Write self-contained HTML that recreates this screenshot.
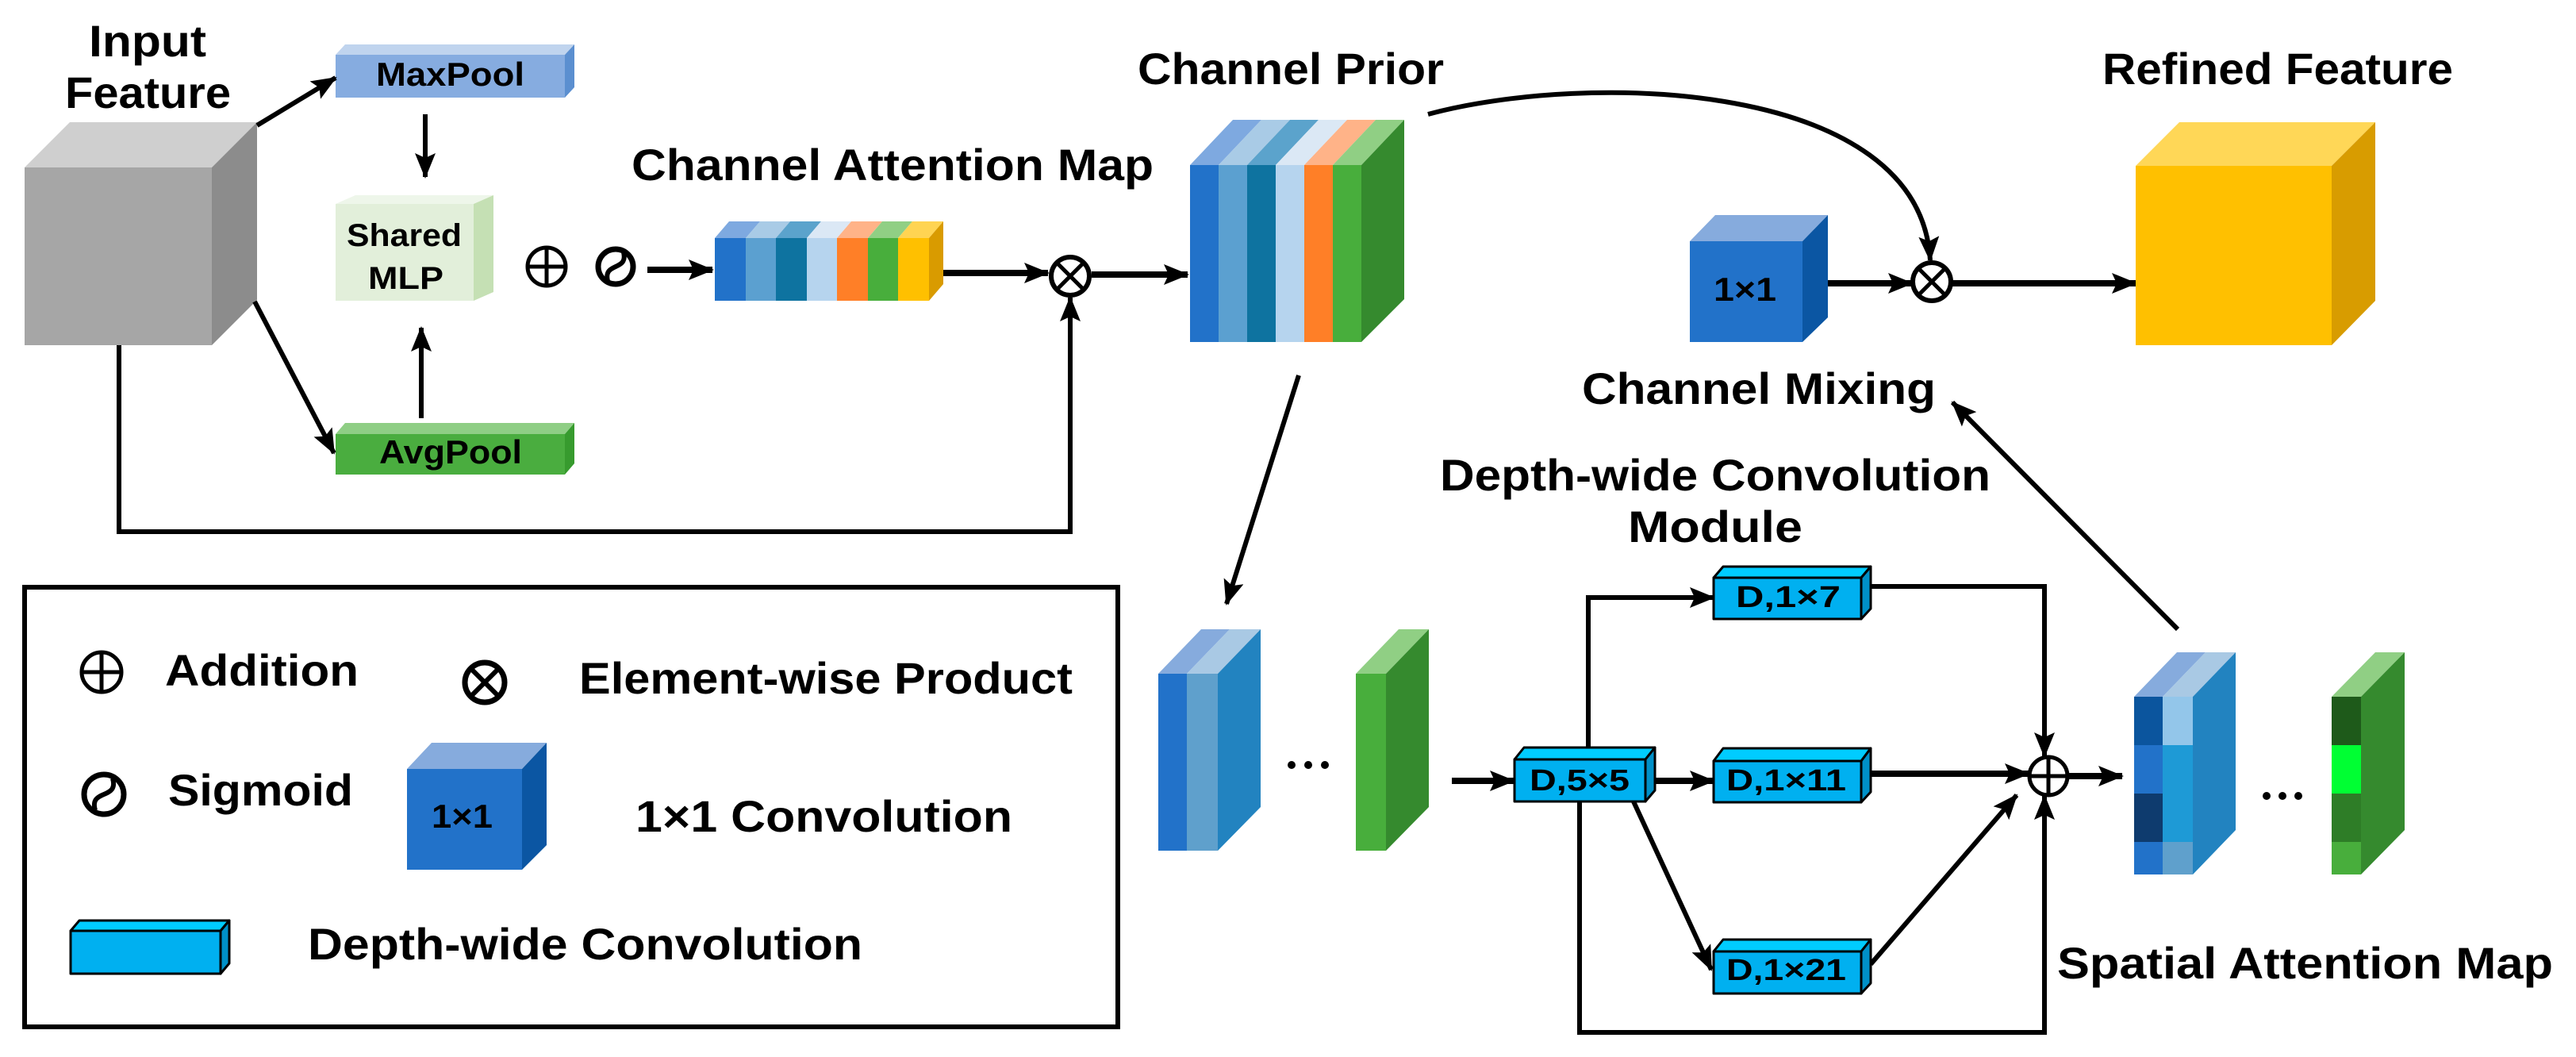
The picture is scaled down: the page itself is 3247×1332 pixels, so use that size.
<!DOCTYPE html>
<html><head><meta charset="utf-8"><style>
html,body{margin:0;padding:0;background:#fff}
svg{display:block}
text{font-family:"Liberation Sans",sans-serif;font-weight:bold;fill:#000}
</style></head><body>
<svg width="3247" height="1332" viewBox="0 0 3247 1332" xmlns="http://www.w3.org/2000/svg">
<defs>
<marker id="a" markerUnits="userSpaceOnUse" markerWidth="32" markerHeight="26" refX="30" refY="13" orient="auto">
<path d="M0,0 L32,13 L0,26 L6,13 Z" fill="#000"/></marker>
</defs>
<rect width="3247" height="1332" fill="#fff"/>

<!-- Input feature cube -->
<polygon points="31,211 88,154 324,154 267,211" fill="#cfcfcf"/>
<polygon points="267,211 324,154 324,378 267,435" fill="#8c8c8c"/>
<rect x="31" y="211" width="236" height="224" fill="#a6a6a6"/>
<text x="112" y="71" font-size="56" textLength="148" lengthAdjust="spacingAndGlyphs">Input</text>
<text x="82" y="136" font-size="56" textLength="209" lengthAdjust="spacingAndGlyphs">Feature</text>

<!-- MaxPool -->
<polygon points="423,69 435,56 724,56 712,69" fill="#c0d4ee"/>
<polygon points="712,69 724,56 724,110 712,123" fill="#5b8fd0"/>
<rect x="423" y="69" width="289" height="54" fill="#86ace0"/>
<text x="474" y="108" font-size="42" textLength="187" lengthAdjust="spacingAndGlyphs">MaxPool</text>

<!-- Shared MLP -->
<polygon points="423,257 448,246 622,246 597,257" fill="#eef6ea"/>
<polygon points="597,257 622,246 622,368 597,379" fill="#c5e0b4"/>
<rect x="423" y="257" width="174" height="122" fill="#e2efda"/>
<text x="437" y="310" font-size="40" textLength="145" lengthAdjust="spacingAndGlyphs">Shared</text>
<text x="464" y="364" font-size="40" textLength="95" lengthAdjust="spacingAndGlyphs">MLP</text>

<!-- AvgPool -->
<polygon points="423,547 435,533 724,533 712,547" fill="#8fce85"/>
<polygon points="712,547 724,533 724,584 712,598" fill="#379b2e"/>
<rect x="423" y="547" width="289" height="51" fill="#4aad3f"/>
<text x="478" y="584" font-size="42" textLength="180" lengthAdjust="spacingAndGlyphs">AvgPool</text>

<g stroke="#000" stroke-width="6" fill="none">
<line x1="324" y1="158" x2="423" y2="98" marker-end="url(#a)"/>
<line x1="321" y1="380" x2="421" y2="571" marker-end="url(#a)"/>
<line x1="536" y1="144" x2="536" y2="223" marker-end="url(#a)"/>
<line x1="531" y1="527" x2="531" y2="413" marker-end="url(#a)"/>
<line x1="816" y1="340" x2="898" y2="340" marker-end="url(#a)" stroke-width="8"/>
<line x1="1189" y1="344" x2="1321" y2="344" marker-end="url(#a)" stroke-width="8"/>
<line x1="1376" y1="346" x2="1497" y2="346" marker-end="url(#a)" stroke-width="8"/>
<polyline points="150,435 150,670 1349,670 1349,375" marker-end="url(#a)"/>
</g>

<!-- plus / sigmoid -->
<g stroke="#000" stroke-width="5" fill="none">
<circle cx="689" cy="336" r="24"/><line x1="665" y1="336" x2="713" y2="336"/><line x1="689" y1="312" x2="689" y2="360"/>
<circle cx="776" cy="336" r="22" stroke-width="7"/><path d="M766,354 C760,330 792,342 786,318" stroke-width="6"/>
<circle cx="1349" cy="348" r="24" stroke-width="6"/><line x1="1332" y1="331" x2="1366" y2="365"/><line x1="1366" y1="331" x2="1332" y2="365"/>
</g>

<!-- Channel attention map -->
<text x="796" y="227" font-size="56" textLength="658" lengthAdjust="spacingAndGlyphs">Channel Attention Map</text>
<g>
<polygon points="901,300 919,279 958,279 940,300" fill="#7ea9e0"/>
<polygon points="940,300 958,279 996,279 978,300" fill="#a9cbe6"/>
<polygon points="978,300 996,279 1035,279 1017,300" fill="#5ba3cc"/>
<polygon points="1017,300 1035,279 1073,279 1055,300" fill="#dbe8f5"/>
<polygon points="1055,300 1073,279 1112,279 1094,300" fill="#ffb388"/>
<polygon points="1094,300 1112,279 1150,279 1132,300" fill="#90cf84"/>
<polygon points="1132,300 1150,279 1189,279 1171,300" fill="#ffd452"/>
<polygon points="1171,300 1189,279 1189,358 1171,379" fill="#d99b00"/>
<rect x="901" y="300" width="39" height="79" fill="#2272c9"/>
<rect x="940" y="300" width="38" height="79" fill="#5ba0d0"/>
<rect x="978" y="300" width="39" height="79" fill="#0e73a0"/>
<rect x="1017" y="300" width="38" height="79" fill="#b6d4ee"/>
<rect x="1055" y="300" width="39" height="79" fill="#ff7f27"/>
<rect x="1094" y="300" width="38" height="79" fill="#48ae3c"/>
<rect x="1132" y="300" width="39" height="79" fill="#ffc000"/>
</g>

<!-- Channel prior -->
<text x="1434" y="106" font-size="56" textLength="386" lengthAdjust="spacingAndGlyphs">Channel Prior</text>
<g>
<polygon points="1500,208 1554,151 1590,151 1536,208" fill="#7ea9e0"/>
<polygon points="1536,208 1590,151 1626,151 1572,208" fill="#a9cbe6"/>
<polygon points="1572,208 1626,151 1662,151 1608,208" fill="#5ba3cc"/>
<polygon points="1608,208 1662,151 1698,151 1644,208" fill="#dbe8f5"/>
<polygon points="1644,208 1698,151 1734,151 1680,208" fill="#ffb388"/>
<polygon points="1680,208 1734,151 1770,151 1716,208" fill="#90cf84"/>
<polygon points="1716,208 1770,151 1770,377 1716,431" fill="#358a2e"/>
<rect x="1500" y="208" width="36" height="223" fill="#2272c9"/>
<rect x="1536" y="208" width="36" height="223" fill="#5ba0d0"/>
<rect x="1572" y="208" width="36" height="223" fill="#0e73a0"/>
<rect x="1608" y="208" width="36" height="223" fill="#b6d4ee"/>
<rect x="1644" y="208" width="36" height="223" fill="#ff7f27"/>
<rect x="1680" y="208" width="36" height="223" fill="#48ae3c"/>
</g>

<path d="M1800,144 C2000,90 2420,100 2433,328" stroke="#000" stroke-width="6" fill="none" marker-end="url(#a)"/>

<!-- Channel mixing cube -->
<polygon points="2130,304 2162,271 2304,271 2272,304" fill="#86abdd"/>
<polygon points="2272,304 2304,271 2304,400 2272,431" fill="#0b56a3"/>
<rect x="2130" y="304" width="142" height="127" fill="#2272c9"/>
<text x="2160" y="379" font-size="42" textLength="79" lengthAdjust="spacingAndGlyphs">1×1</text>
<text x="1994" y="509" font-size="56" textLength="446" lengthAdjust="spacingAndGlyphs">Channel Mixing</text>

<g stroke="#000" stroke-width="8" fill="none">
<line x1="2304" y1="357" x2="2410" y2="357" marker-end="url(#a)"/>
<circle cx="2435" cy="355" r="24" stroke-width="6"/><line x1="2418" y1="338" x2="2452" y2="372" stroke-width="5"/><line x1="2452" y1="338" x2="2418" y2="372" stroke-width="5"/>
<line x1="2460" y1="357" x2="2692" y2="357" marker-end="url(#a)"/>
</g>

<!-- Refined -->
<polygon points="2692,209 2747,154 2994,154 2939,209" fill="#ffd757"/>
<polygon points="2939,209 2994,154 2994,379 2939,435" fill="#d89c00"/>
<rect x="2692" y="209" width="247" height="226" fill="#ffc000"/>
<text x="2650" y="106" font-size="56" textLength="442" lengthAdjust="spacingAndGlyphs">Refined Feature</text>

<text x="1815" y="618" font-size="56" textLength="694" lengthAdjust="spacingAndGlyphs">Depth-wide Convolution</text>
<text x="2052" y="683" font-size="56" textLength="220" lengthAdjust="spacingAndGlyphs">Module</text>

<g stroke="#000" stroke-width="6" fill="none">
<line x1="1637" y1="473" x2="1546" y2="761" marker-end="url(#a)"/>
<line x1="2745" y1="793" x2="2461" y2="507" marker-end="url(#a)"/>
</g>

<!-- Legend -->
<rect x="31" y="740" width="1378" height="554" fill="none" stroke="#000" stroke-width="6"/>
<g stroke="#000" stroke-width="5" fill="none">
<circle cx="128" cy="847" r="25"/><line x1="103" y1="847" x2="153" y2="847"/><line x1="128" y1="822" x2="128" y2="872"/>
<circle cx="611" cy="860" r="25" stroke-width="7"/><line x1="593" y1="842" x2="629" y2="878" stroke-width="6"/><line x1="629" y1="842" x2="593" y2="878" stroke-width="6"/>
<circle cx="131" cy="1001" r="25" stroke-width="7"/><path d="M120,1021 C112,994 150,1008 142,981" stroke-width="6"/>
</g>
<text x="208" y="864" font-size="56" textLength="244" lengthAdjust="spacingAndGlyphs">Addition</text>
<text x="730" y="874" font-size="56" textLength="622" lengthAdjust="spacingAndGlyphs">Element-wise Product</text>
<text x="212" y="1015" font-size="56" textLength="233" lengthAdjust="spacingAndGlyphs">Sigmoid</text>
<polygon points="513,969 544,936 689,936 658,969" fill="#86abdd"/>
<polygon points="658,969 689,936 689,1065 658,1096" fill="#0b56a3"/>
<rect x="513" y="969" width="145" height="127" fill="#2272c9"/>
<text x="544" y="1043" font-size="42" textLength="77" lengthAdjust="spacingAndGlyphs">1×1</text>
<text x="801" y="1048" font-size="56" textLength="475" lengthAdjust="spacingAndGlyphs">1×1 Convolution</text>
<g stroke="#000" stroke-width="3" stroke-linejoin="round">
<polygon points="89,1173 100,1160 289,1160 278,1173" fill="#00ccff"/>
<polygon points="278,1173 289,1160 289,1214 278,1227" fill="#0090c8"/>
<rect x="89" y="1173" width="189" height="54" fill="#00b0f0"/>
</g>
<text x="388" y="1209" font-size="56" textLength="699" lengthAdjust="spacingAndGlyphs">Depth-wide Convolution</text>

<!-- lower feature blocks -->
<polygon points="1460,849 1514,793 1550,793 1496,849" fill="#86abdd"/>
<polygon points="1496,849 1550,793 1589,793 1535,849" fill="#a9c9e4"/>
<polygon points="1535,849 1589,793 1589,1017 1535,1072" fill="#2283c0"/>
<rect x="1460" y="849" width="36" height="223" fill="#2272c9"/>
<rect x="1496" y="849" width="39" height="223" fill="#5fa0cc"/>
<g fill="#000"><circle cx="1628" cy="964" r="5"/><circle cx="1649" cy="964" r="5"/><circle cx="1670" cy="964" r="5"/></g>
<polygon points="1709,849 1763,793 1801,793 1747,849" fill="#90cf84"/>
<polygon points="1747,849 1801,793 1801,1017 1747,1072" fill="#358a2e"/>
<rect x="1709" y="849" width="38" height="223" fill="#48ae3c"/>

<!-- connectors DW module -->
<g stroke="#000" stroke-width="6" fill="none">
<line x1="1830" y1="984" x2="1908" y2="984" marker-end="url(#a)" stroke-width="8"/>
<polyline points="2002,957 2002,753 2160,753" marker-end="url(#a)"/>
<line x1="2086" y1="984" x2="2160" y2="984" marker-end="url(#a)" stroke-width="8"/>
<polyline points="2358,739 2577,739 2577,953" marker-end="url(#a)"/>
<line x1="2358" y1="975" x2="2557" y2="975" marker-end="url(#a)" stroke-width="8"/>
<polyline points="1991,1010 1991,1301 2577,1301 2577,1003" marker-end="url(#a)"/>
<line x1="2059" y1="1010" x2="2157" y2="1222" marker-end="url(#a)"/>
<line x1="2358" y1="1215" x2="2542" y2="1002" marker-end="url(#a)"/>
<circle cx="2582" cy="978" r="24" stroke-width="5"/><line x1="2558" y1="978" x2="2606" y2="978" stroke-width="5"/><line x1="2582" y1="954" x2="2582" y2="1002" stroke-width="5"/>
<line x1="2606" y1="978" x2="2675" y2="978" marker-end="url(#a)" stroke-width="8"/>
</g>

<!-- DW boxes -->
<g stroke="#000" stroke-width="3" stroke-linejoin="round">
<polygon points="1909,957 1921,942 2086,942 2074,957" fill="#00ccff"/>
<polygon points="2074,957 2086,942 2086,996 2074,1010" fill="#0090c8"/>
<rect x="1909" y="957" width="165" height="53" fill="#00b0f0"/>
<polygon points="2160,728 2172,714 2358,714 2346,728" fill="#00ccff"/>
<polygon points="2346,728 2358,714 2358,767 2346,780" fill="#0090c8"/>
<rect x="2160" y="728" width="186" height="52" fill="#00b0f0"/>
<polygon points="2160,959 2172,943 2358,943 2346,959" fill="#00ccff"/>
<polygon points="2346,959 2358,943 2358,998 2346,1011" fill="#0090c8"/>
<rect x="2160" y="959" width="186" height="52" fill="#00b0f0"/>
<polygon points="2160,1199 2172,1184 2358,1184 2346,1199" fill="#00ccff"/>
<polygon points="2346,1199 2358,1184 2358,1239 2346,1252" fill="#0090c8"/>
<rect x="2160" y="1199" width="186" height="53" fill="#00b0f0"/>
</g>
<text x="1928" y="996" font-size="38" textLength="126" lengthAdjust="spacingAndGlyphs">D,5×5</text>
<text x="2188" y="765" font-size="38" textLength="132" lengthAdjust="spacingAndGlyphs">D,1×7</text>
<text x="2176" y="996" font-size="38" textLength="151" lengthAdjust="spacingAndGlyphs">D,1×11</text>
<text x="2176" y="1235" font-size="38" textLength="151" lengthAdjust="spacingAndGlyphs">D,1×21</text>

<!-- spatial attention blocks -->
<polygon points="2690,878 2744,822 2780,822 2726,878" fill="#86abdd"/>
<polygon points="2726,878 2780,822 2818,822 2764,878" fill="#a9c9e4"/>
<polygon points="2764,878 2818,822 2818,1046 2764,1102" fill="#2283c0"/>
<rect x="2690" y="878" width="36" height="61" fill="#0b559e"/>
<rect x="2690" y="939" width="36" height="61" fill="#2272c9"/>
<rect x="2690" y="1000" width="36" height="61" fill="#0e3b6e"/>
<rect x="2690" y="1061" width="36" height="41" fill="#2272c9"/>
<rect x="2726" y="878" width="38" height="61" fill="#93c6ea"/>
<rect x="2726" y="939" width="38" height="61" fill="#1e9ad6"/>
<rect x="2726" y="1000" width="38" height="61" fill="#1e9ad6"/>
<rect x="2726" y="1061" width="38" height="41" fill="#5fa0cc"/>
<g fill="#000"><circle cx="2857" cy="1003" r="5"/><circle cx="2877" cy="1003" r="5"/><circle cx="2897" cy="1003" r="5"/></g>
<polygon points="2939,878 2994,822 3031,822 2976,878" fill="#90cf84"/>
<polygon points="2976,878 3031,822 3031,1046 2976,1102" fill="#358a2e"/>
<rect x="2939" y="878" width="37" height="61" fill="#1e5a1a"/>
<rect x="2939" y="939" width="37" height="61" fill="#00ff33"/>
<rect x="2939" y="1000" width="37" height="61" fill="#2e7d27"/>
<rect x="2939" y="1061" width="37" height="41" fill="#48ae3c"/>
<text x="2593" y="1233" font-size="56" textLength="625" lengthAdjust="spacingAndGlyphs">Spatial Attention Map</text>
</svg>
</body></html>
